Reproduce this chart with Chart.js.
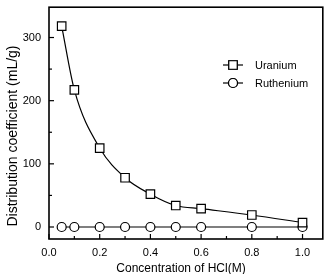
<!DOCTYPE html>
<html>
<head>
<meta charset="utf-8">
<script src="https://cdn.jsdelivr.net/npm/chart.js@4"></script>
<style>
  html, body { margin: 0; padding: 0; background: #fff; }
  #wrap { width: 330px; height: 274px; }
</style>
</head>
<body>
<div id="wrap"><canvas id="grafico" width="330" height="274"></canvas></div>
<script>
// values
const hcl = [0.05, 0.1, 0.2, 0.3, 0.4, 0.5, 0.6, 0.8, 1.0];
const uranium = [318, 217, 125, 78, 52, 34, 29, 19, 7];
const ruthenium = [0, 0, 0, 0, 0, 0, 0, 0, 0];
const xTicks = [0, 0.1, 0.2, 0.3, 0.4, 0.5, 0.6, 0.7, 0.8, 0.9, 1.0];
const yTicks = [0, 50, 100, 150, 200, 250, 300];
const nomes = ['Uranium', 'Ruthenium'];
const tituloX = 'Concentration of HCl(M)';
const tituloY = 'Distribution coefficient (mL/g)';

const fonte = 'Arial, "Liberation Sans", sans-serif';

function pares(ys) {
    return hcl.map((x, i) => ({ x: x, y: ys[i] }));
}

// frame, inside ticks, axis titles and the little legend in the plot
const extras = {
    id: 'extras',
    afterDraw(chart) {
        const ctx = chart.ctx;
        const a = chart.chartArea;
        const sx = chart.scales.x;
        const sy = chart.scales.y;
        ctx.save();
        ctx.strokeStyle = '#000';
        ctx.lineWidth = 1.6;
        ctx.strokeRect(a.left, a.top, a.right - a.left, a.bottom - a.top);

        ctx.lineWidth = 1.2;
        xTicks.forEach(v => {
            let px = sx.getPixelForValue(v);
            let len = Math.round(v * 10) % 2 === 0 ? 5 : 3;
            ctx.beginPath();
            ctx.moveTo(px, a.bottom);
            ctx.lineTo(px, a.bottom - len);
            ctx.stroke();
        });
        yTicks.forEach(v => {
            let py = sy.getPixelForValue(v);
            let len = v % 100 === 0 ? 5 : 3;
            ctx.beginPath();
            ctx.moveTo(a.left, py);
            ctx.lineTo(a.left + len, py);
            ctx.stroke();
        });

        // titles
        ctx.fillStyle = '#000';
        ctx.textAlign = 'center';
        ctx.textBaseline = 'middle';
        ctx.font = '12px ' + fonte;
        ctx.fillText(tituloX, 181, 269);
        ctx.save();
        ctx.translate(13, 136);
        ctx.rotate(-Math.PI / 2);
        ctx.font = '14px ' + fonte;
        ctx.fillText(tituloY, 0, 0);
        ctx.restore();

        // legend
        chart.data.datasets.forEach((ds, i) => {
            let y = 65 + i * 18;
            ctx.lineWidth = 1.2;
            ctx.beginPath();
            ctx.moveTo(223, y);
            ctx.lineTo(243, y);
            ctx.stroke();
            Chart.helpers.drawPoint(ctx, {
                pointStyle: ds.pointStyle,
                radius: ds.pointRadius,
                borderWidth: ds.pointBorderWidth
            }, 233, y);
            ctx.fillStyle = '#fff';
            ctx.fill();
            ctx.stroke();
            ctx.fillStyle = '#000';
            ctx.font = '11px ' + fonte;
            ctx.textBaseline = 'middle';
            ctx.textAlign = 'left';
            ctx.fillText(ds.label, 255, y + 1);
        });
        ctx.restore();
    }
};

const config = {
    type: 'line',
    data: {
        datasets: [
            {
                label: nomes[0],
                data: pares(uranium),
                borderColor: '#000',
                borderWidth: 1.2,
                backgroundColor: '#fff',
                pointStyle: 'rect',
                pointRadius: 6,
                pointBorderWidth: 1.2,
                pointBackgroundColor: '#fff',
                pointBorderColor: '#000',
                cubicInterpolationMode: 'monotone'
            },
            {
                label: nomes[1],
                data: pares(ruthenium),
                borderColor: '#000',
                borderWidth: 1.2,
                backgroundColor: '#fff',
                pointStyle: 'circle',
                pointRadius: 4.5,
                pointBorderWidth: 1.2,
                pointBackgroundColor: '#fff',
                pointBorderColor: '#000'
            }
        ]
    },
    options: {
        responsive: false,
        animation: false,
        layout: { padding: { top: 4, right: 2, left: 0, bottom: 0 } },
        plugins: {
            legend: { display: false },
            tooltip: { enabled: false }
        },
        scales: {
            x: {
                type: 'linear',
                min: 0,
                max: 1.08,
                afterBuildTicks: s => { s.ticks = xTicks.map(v => ({ value: v })); },
                afterFit: s => {
                    s.height = 35;
                    s.paddingLeft = 0;
                    s.paddingRight = 0;
                },
                grid: { display: false, drawTicks: false },
                border: { display: false },
                ticks: {
                    padding: 7,
                    color: '#000',
                    font: { family: fonte, size: 11 },
                    maxRotation: 0,
                    autoSkip: false,
                    callback: v => Math.round(v * 10) % 2 === 0 ? v.toFixed(1) : ''
                },
                title: { display: false }
            },
            y: {
                min: -19,
                max: 348,
                afterBuildTicks: s => { s.ticks = yTicks.map(v => ({ value: v })); },
                afterFit: s => {
                    s.width = 49;
                    s.paddingTop = 0;
                    s.paddingBottom = 0;
                },
                grid: { display: false, drawTicks: false },
                border: { display: false },
                ticks: {
                    padding: 8,
                    color: '#000',
                    font: { family: fonte, size: 11 },
                    autoSkip: false,
                    callback: v => v % 100 === 0 ? String(v) : ''
                },
                title: { display: false }
            }
        }
    },
    plugins: [extras]
};

const myChart = new Chart(document.getElementById('grafico'), config);
</script>
</body>
</html>
